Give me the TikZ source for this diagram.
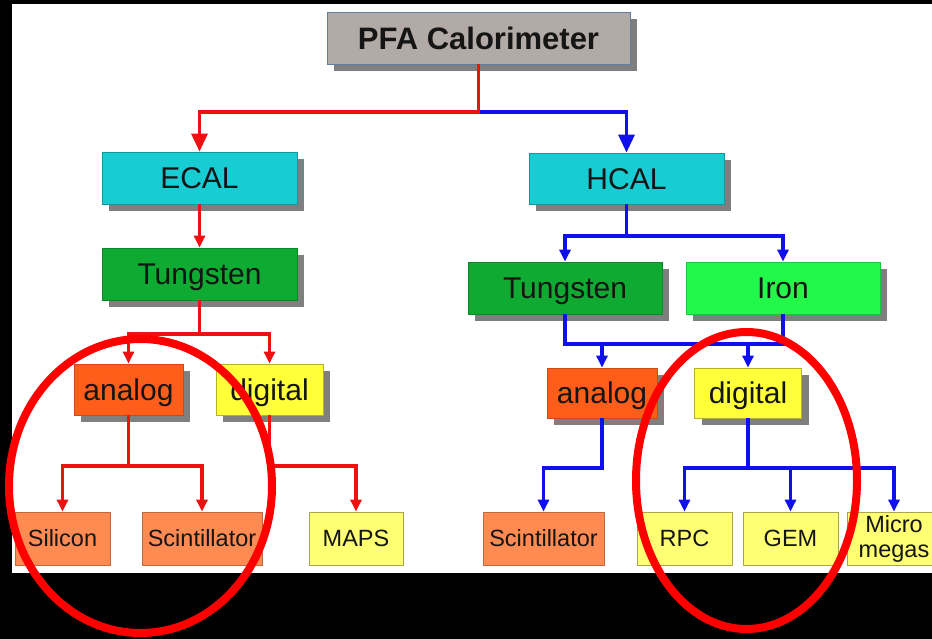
\documentclass[tikz,border=0pt]{standalone}
\usepackage{fontspec}
\setmainfont{Liberation Sans}
\usetikzlibrary{arrows.meta,shadows}
\definecolor{pfafill}{HTML}{B2AAA7}
\definecolor{pfadraw}{HTML}{5E7FA3}
\definecolor{cyanfill}{HTML}{17CCD3}
\definecolor{tungfill}{HTML}{0FAA32}
\definecolor{ironfill}{HTML}{22F84A}
\definecolor{anafill}{HTML}{FF5E1A}
\definecolor{digfill}{HTML}{FFFF3A}
\definecolor{lofill}{HTML}{FF8A52}
\definecolor{lyfill}{HTML}{FFFF73}
\definecolor{shadowgrey}{HTML}{7F7F7F}
\definecolor{linered}{HTML}{EE1111}
\definecolor{lineblue}{HTML}{1010EE}
\definecolor{ellred}{HTML}{FF0000}
\definecolor{textdark}{HTML}{151515}
\begin{document}
\begin{tikzpicture}[x=1pt,y=-1pt,
  boxbase/.style={rectangle, inner sep=0pt, line width=0.8pt, text=textdark, align=center},
  shadowed/.style={drop shadow={shadow xshift=7pt,shadow yshift=-7pt,fill=shadowgrey,opacity=1}},
  bigtext/.style={font=\fontsize{30}{36}\selectfont, text height=21.5pt, text depth=0pt},
  smalltext/.style={font=\fontsize{23.5}{25}\selectfont, minimum height=53pt},
  oneline/.style={text height=16.8pt, text depth=0pt},
  pfabox/.style={boxbase, shadowed, fill=pfafill, draw=pfadraw, font=\bfseries\fontsize{31}{36}\selectfont, text height=22.2pt, text depth=0pt},
  cyanbox/.style={boxbase, shadowed, bigtext, fill=cyanfill, draw=cyanfill!75!black},
  tungbox/.style={boxbase, shadowed, bigtext, fill=tungfill, draw=tungfill!80!black},
  ironbox/.style={boxbase, shadowed, bigtext, fill=ironfill, draw=ironfill!80!black},
  anabox/.style={boxbase, shadowed, bigtext, fill=anafill, draw=anafill!80!black},
  digbox/.style={boxbase, shadowed, bigtext, fill=digfill, draw=digfill!70!black},
  lobox/.style={boxbase, smalltext, fill=lofill, draw=lofill!75!black},
  lybox/.style={boxbase, smalltext, fill=lyfill, draw=lyfill!65!black},
  redline/.style={draw=linered, line width=3.2pt, line join=miter},
  blueline/.style={draw=lineblue, line width=3.2pt, line join=miter},
  bigtip/.style={-{Triangle[length=18pt,width=16pt]}},
  smalltip/.style={-{Triangle[length=12pt,width=11pt]}}
]
\useasboundingbox (0,0) rectangle (932,639);
\fill[black] (0,0) rectangle (932,639);
\fill[white] (12,4) rectangle (932,573);

% levels
\coordinate (lv1) at (0,112);
\coordinate (lv2) at (0,334);
\coordinate (lv3) at (0,466);
\coordinate (lv4) at (0,236);
\coordinate (lv5) at (0,344);
\coordinate (lv6) at (0,468);

% nodes
\node[pfabox, minimum width=303pt, minimum height=52pt] (pfa) at (478.5,38) {PFA Calorimeter};
\node[cyanbox, minimum width=195pt, minimum height=52pt] (ecal) at (199.5,178) {ECAL};
\node[tungbox, minimum width=195pt, minimum height=52pt] (etung) at (199.5,274) {Tungsten};
\node[cyanbox, minimum width=195pt, minimum height=51pt] (hcal) at (626.5,178.5) {HCAL};
\node[tungbox, minimum width=194pt, minimum height=52pt] (htung) at (565,288) {Tungsten};
\node[ironbox, minimum width=194pt, minimum height=52pt] (hiron) at (783,288) {Iron};
\node[anabox, minimum width=109pt, minimum height=51pt] (ea) at (128.5,389.5) {analog};
\node[digbox, minimum width=107pt, minimum height=51pt] (ed) at (269.5,389.5) {digital};
\node[anabox, minimum width=110pt, minimum height=50pt] (ha) at (602,393) {analog};
\node[digbox, minimum width=107pt, minimum height=50pt] (hd) at (748,393) {digital};
\node[lobox, oneline, minimum width=95pt] (sil) at (62.5,538.5) {Silicon};
\node[lobox, oneline, minimum width=120pt] (escint) at (202,538.5) {Scintillator};
\node[lybox, oneline, minimum width=94pt] (maps) at (356,538.5) {MAPS};
\node[lobox, oneline, minimum width=121pt] (hscint) at (543.5,538.5) {Scintillator};
\node[lybox, oneline, minimum width=95pt] (rpc) at (684.5,538.5) {RPC};
\node[lybox, oneline, minimum width=95pt] (gem) at (790.5,538.5) {GEM};
\node[lybox, minimum width=94pt] (mm) at (894,538.5) {Micro\\megas};

% ECAL branch (red) and HCAL top link (blue)
\draw[blueline, bigtip] (pfa.south |- lv1) -| (hcal.north);
\draw[redline, bigtip] (pfa.south) -- (pfa.south |- lv1) -| (ecal.north);
\draw[redline, smalltip] (ecal.south) -- (etung.north);
\draw[redline, smalltip] (etung.south) -- (etung.south |- lv2) -| (ea.north);
\draw[redline, smalltip] (etung.south |- lv2) -| (ed.north);
\draw[redline, smalltip] (ea.south) -- (ea.south |- lv3) -| (sil.north);
\draw[redline, smalltip] (ea.south |- lv3) -| (escint.north);
\draw[redline, smalltip] (ed.south) -- (ed.south |- lv3) -| (maps.north);

% HCAL branch (blue)
\draw[blueline, smalltip] (hcal.south) -- (hcal.south |- lv4) -| (htung.north);
\draw[blueline, smalltip] (hcal.south |- lv4) -| (hiron.north);
\draw[blueline] (htung.south) -- (htung.south |- lv5) -- (hiron.south |- lv5) -- (hiron.south);
\draw[blueline, smalltip] (ha.north |- lv5) -- (ha.north);
\draw[blueline, smalltip] (hd.north |- lv5) -- (hd.north);
\draw[blueline, smalltip] (ha.south) -- (ha.south |- lv6) -| (hscint.north);
\draw[blueline, smalltip] (hd.south) -- (hd.south |- lv6) -| (rpc.north);
\draw[blueline, smalltip] (hd.south |- lv6) -| (gem.north);
\draw[blueline, smalltip] (hd.south |- lv6) -| (mm.north);

% highlight ellipses
\draw[ellred, line width=8pt] (140.5,486) ellipse [x radius=131.5pt, y radius=147pt];
\draw[ellred, line width=8pt] (746.5,480.5) ellipse [x radius=110.5pt, y radius=148.5pt];
\end{tikzpicture}
\end{document}
